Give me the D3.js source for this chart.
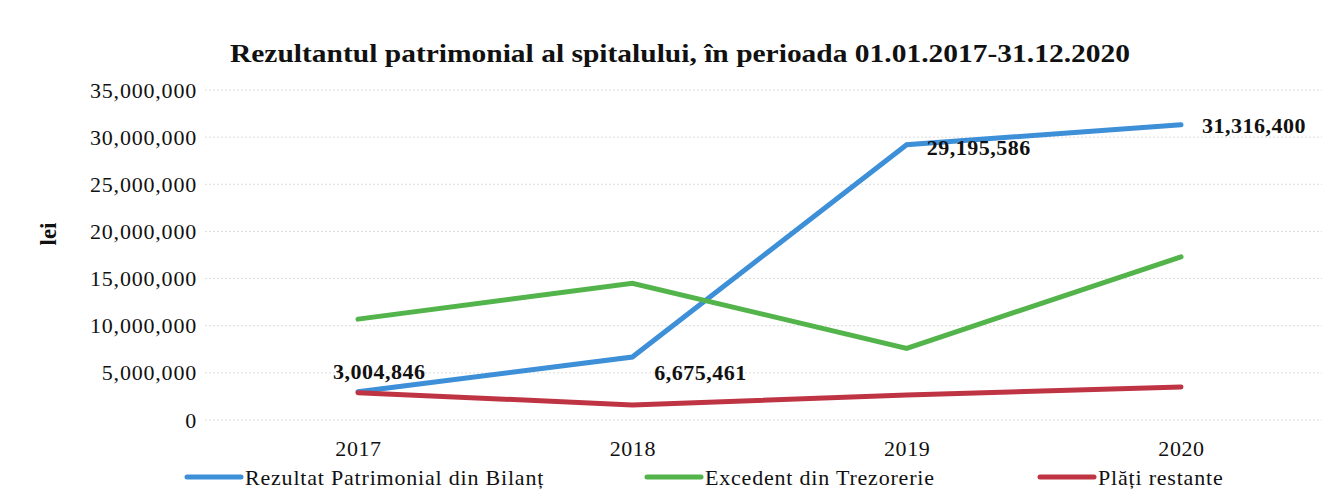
<!doctype html>
<html lang="ro">
<head>
  <meta charset="utf-8">
  <title>Rezultantul patrimonial</title>
  <script src="https://d3js.org/d3.v7.min.js"></script>
  <style>
    body { margin: 0; background: #fff; }
    svg text { font-family: "Liberation Serif", "Times New Roman", serif; fill: #111; }
    .grid line { stroke: #dcdcdc; stroke-dasharray: 2 2; }
    .title { font-weight: bold; font-size: 25px; }
    .tick-label { font-size: 22px; }
    .data-label { font-weight: bold; font-size: 22px; }
  </style>
</head>
<body>
<div id="chart"></div>
<script>
// values (lei)
const years = ['2017', '2018', '2019', '2020'];
const rezultat = [3004846, 6675461, 29195586, 31316400];
const excedent = [10700000, 14500000, 7600000, 17300000];
const platiRestante = [2900000, 1600000, 2650000, 3500000];
const seriesNames = ['Rezultat Patrimonial din Bilanț', 'Excedent din Trezorerie', 'Plăți restante'];
const yTicks = [0, 5000000, 10000000, 15000000, 20000000, 25000000, 30000000, 35000000];

const width = 1340, height = 500;
const margin = { top: 90, right: 22, bottom: 80, left: 221 };

const colors = ['#3d8fd8', '#52b44a', '#bf3443'];
const series = [rezultat, excedent, platiRestante];

const svg = d3.select('#chart').append('svg')
  .attr('width', width)
  .attr('height', height);

svg.append('rect').attr('width', width).attr('height', height).attr('fill', '#fff');

const x = d3.scalePoint()
  .domain(years)
  .range([358, 1181]);

const y = d3.scaleLinear()
  .domain([0, 35000000])
  .range([height - margin.bottom, margin.top]);

// title (the scan is a bit stretched sideways, so fix its length)
svg.append('text')
  .attr('class', 'title')
  .attr('x', 230)
  .attr('y', 62)
  .attr('textLength', 900)
  .attr('lengthAdjust', 'spacingAndGlyphs')
  .text('Rezultantul patrimonial al spitalului, în perioada 01.01.2017-31.12.2020');

// grid lines
svg.append('g')
  .attr('class', 'grid')
  .selectAll('line')
  .data(yTicks)
  .join('line')
  .attr('x1', 205)
  .attr('x2', 1322)
  .attr('y1', d => y(d))
  .attr('y2', d => y(d));

// y axis labels
const yAxis = d3.axisLeft(y)
  .tickValues(yTicks)
  .tickFormat(d3.format(','))
  .tickSize(0)
  .tickPadding(0);

svg.append('g')
  .attr('transform', 'translate(197,0)')
  .call(yAxis)
  .call(g => g.select('.domain').remove())
  .call(g => g.selectAll('text')
    .attr('class', 'tick-label')
    .attr('font-family', null)
    .attr('font-size', null)
    .attr('fill', '#111')
    .attr('letter-spacing', '0.8'));

// y title
svg.append('text')
  .attr('class', 'data-label')
  .attr('transform', 'translate(56,234) rotate(-90)')
  .attr('text-anchor', 'middle')
  .style('font-size', '23px')
  .text('lei');

// x axis labels
const xAxis = d3.axisBottom(x).tickSize(0).tickPadding(0);
svg.append('g')
  .attr('transform', 'translate(0,440)')
  .call(xAxis)
  .call(g => g.select('.domain').remove())
  .call(g => g.selectAll('text')
    .attr('class', 'tick-label')
    .attr('font-family', null)
    .attr('font-size', null)
    .attr('fill', '#111')
    .attr('letter-spacing', '0.6'));

// lines
const line = d3.line()
  .x((d, i) => x(years[i]))
  .y(d => y(d));

svg.append('g')
  .selectAll('path')
  .data(series)
  .join('path')
  .attr('d', line)
  .attr('fill', 'none')
  .attr('stroke', (d, i) => colors[i])
  .attr('stroke-width', 5)
  .attr('stroke-linejoin', 'miter')
  .attr('stroke-linecap', 'round');

// data labels for the first series
const labelOffsets = [[-25, -13], [22, 23], [20, 10], [21, 8]];
svg.append('g')
  .selectAll('text')
  .data(rezultat)
  .join('text')
  .attr('class', 'data-label')
  .attr('x', (d, i) => x(years[i]) + labelOffsets[i][0])
  .attr('y', (d, i) => y(d) + labelOffsets[i][1])
  .attr('letter-spacing', '0.5')
  .text(d => d3.format(',')(d));

// legend
const legendX = [185, 645, 1038];
const legend = svg.append('g')
  .selectAll('g')
  .data(seriesNames)
  .join('g')
  .attr('transform', (d, i) => `translate(${legendX[i]},477)`);

legend.append('line')
  .attr('x1', 2).attr('x2', 56)
  .attr('stroke', (d, i) => colors[i])
  .attr('stroke-width', 5)
  .attr('stroke-linecap', 'round');

legend.append('text')
  .attr('class', 'tick-label')
  .attr('x', 60)
  .attr('y', 8)
  .attr('letter-spacing', '0.8')
  .text(d => d);
</script>
</body>
</html>
